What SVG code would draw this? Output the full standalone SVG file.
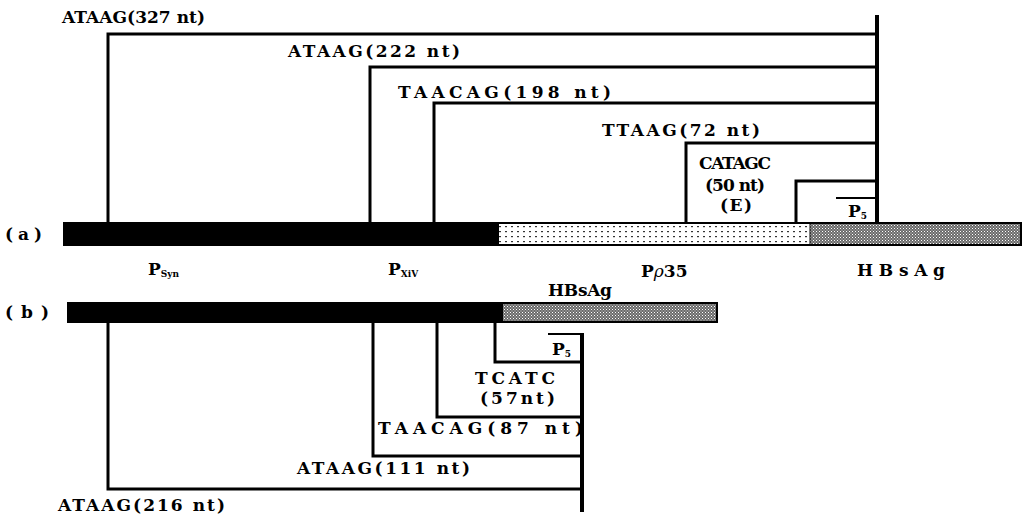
<svg xmlns="http://www.w3.org/2000/svg" width="1027" height="517" viewBox="0 0 1027 517">
<style>
.t{font-family:"DejaVu Serif","Liberation Serif",serif;font-weight:bold;font-size:17px;fill:#000}
.s{font-family:"DejaVu Serif","Liberation Serif",serif;font-weight:bold;font-size:9px;fill:#000}
.ln{stroke:#000;stroke-width:3;fill:none;stroke-linecap:square}
.main{stroke:#000;stroke-width:4;fill:none}
</style>
<defs>
<pattern id="dots" width="6" height="5" patternUnits="userSpaceOnUse">
<rect width="6" height="5" fill="#fff"/>
<rect x="1" y="1" width="2" height="1.2" fill="#333"/>
</pattern>
<pattern id="stip" width="3" height="3" patternUnits="userSpaceOnUse">
<rect width="3" height="3" fill="#6a6a6a"/>
<rect x="0" y="0" width="1" height="1" fill="#fff"/>
<rect x="1.5" y="1.5" width="1" height="1" fill="#ddd"/>
</pattern>
</defs>

<g id="bar-a">
<rect x="63" y="222" width="436" height="24" fill="#000"/>
<rect x="499" y="222" width="311" height="24" fill="url(#dots)"/>
<rect x="810" y="222" width="212" height="24" fill="url(#stip)"/>
<line x1="499" y1="223" x2="1022" y2="223" stroke="#000" stroke-width="2"/>
<line x1="499" y1="245" x2="1022" y2="245" stroke="#000" stroke-width="2"/>
<line x1="1021" y1="222" x2="1021" y2="246" stroke="#000" stroke-width="2"/>
<line x1="810" y1="222" x2="810" y2="246" stroke="#000" stroke-width="1"/>
<text class="t" x="5" y="240" textLength="37" lengthAdjust="spacing">(a)</text>
</g>

<g id="bar-b">
<rect x="67" y="302" width="436" height="21" fill="#000"/>
<rect x="503" y="302" width="215" height="21" fill="url(#stip)"/>
<line x1="503" y1="303" x2="718" y2="303" stroke="#000" stroke-width="2"/>
<line x1="503" y1="322" x2="718" y2="322" stroke="#000" stroke-width="2"/>
<line x1="717" y1="302" x2="717" y2="323" stroke="#000" stroke-width="2"/>
<text class="t" x="5" y="318" textLength="44" lengthAdjust="spacing">(b)</text>
</g>

<g id="connectors">
<line class="main" x1="877" y1="15" x2="877" y2="222"/>
<polyline class="ln" points="108,222 108,34 877,34"/>
<polyline class="ln" points="370,222 370,67 877,67"/>
<polyline class="ln" points="434,222 434,103 877,103"/>
<polyline class="ln" points="686,222 686,143 877,143"/>
<polyline class="ln" points="796,222 796,181 877,181"/>
<line x1="836" y1="198" x2="875" y2="198" stroke="#000" stroke-width="2"/>

<line class="main" x1="582" y1="333" x2="582" y2="512"/>
<line x1="548" y1="334" x2="580" y2="334" stroke="#000" stroke-width="2"/>
<polyline class="ln" points="495,323 495,362 582,362"/>
<polyline class="ln" points="437,323 437,417 582,417"/>
<polyline class="ln" points="373,323 373,456 582,456"/>
<polyline class="ln" points="108,323 108,489 582,489"/>
</g>

<g id="labels-a">
<text class="t" x="62" y="23" textLength="143" lengthAdjust="spacing">ATAAG(327 nt)</text>
<text class="t" x="288" y="57" textLength="172" lengthAdjust="spacing">ATAAG(222 nt)</text>
<text class="t" x="398" y="98" textLength="213" lengthAdjust="spacing">TAACAG(198 nt)</text>
<text class="t" x="602" y="136" textLength="158" lengthAdjust="spacing">TTAAG(72 nt)</text>
<text class="t" x="699" y="169" textLength="72" lengthAdjust="spacing">CATAGC</text>
<text class="t" x="705" y="191" textLength="60" lengthAdjust="spacing">(50 nt)</text>
<text class="t" x="720" y="211" textLength="32" lengthAdjust="spacing">(E)</text>
<text class="t" x="848" y="217">P<tspan class="s" dy="2">5</tspan></text>
<text class="t" x="148" y="275">P<tspan class="s" dy="2">Syn</tspan></text>
<text class="t" x="388" y="275">P<tspan class="s" dy="2">XiV</tspan></text>
<text class="t" x="641" y="277">P<tspan font-style="italic" font-weight="normal">ρ</tspan>35</text>
<text class="t" x="857" y="276" textLength="88" lengthAdjust="spacing">HBsAg</text>
</g>

<g id="labels-b">
<text class="t" x="548" y="296" textLength="64" lengthAdjust="spacing">HBsAg</text>
<text class="t" x="552" y="355">P<tspan class="s" dy="2">5</tspan></text>
<text class="t" x="475" y="384" textLength="80" lengthAdjust="spacing">TCATC</text>
<text class="t" x="480" y="404" textLength="75" lengthAdjust="spacing">(57nt)</text>
<text class="t" x="378" y="434" textLength="205" lengthAdjust="spacing">TAACAG(87 nt)</text>
<text class="t" x="297" y="474" textLength="173" lengthAdjust="spacing">ATAAG(111 nt)</text>
<text class="t" x="58" y="511" textLength="167" lengthAdjust="spacing">ATAAG(216 nt)</text>
</g>
</svg>
